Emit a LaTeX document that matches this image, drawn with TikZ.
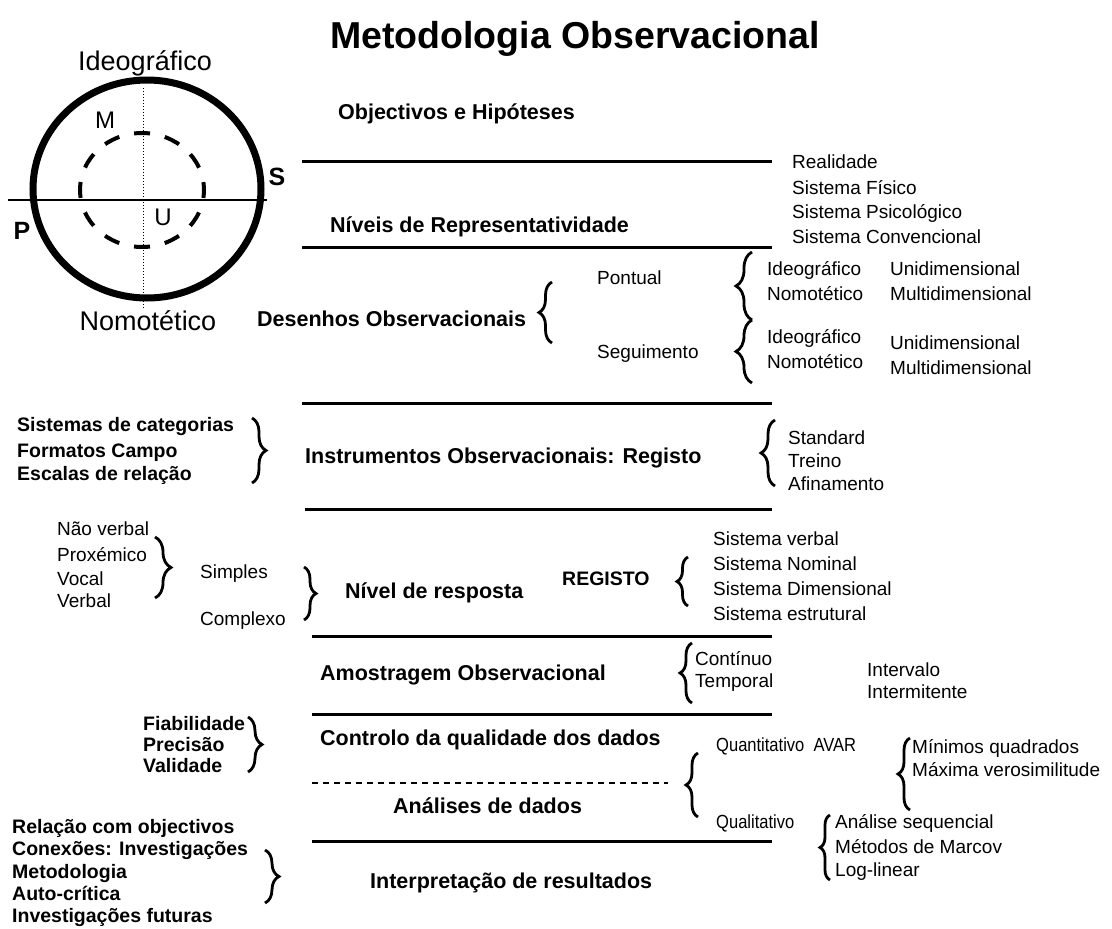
\documentclass[tikz,border=0pt]{standalone}
\usepackage{fontspec}
\setmainfont{Liberation Sans}
\newfontfamily\narrowfont[FakeStretch=0.87]{Liberation Sans}
\usetikzlibrary{decorations.pathreplacing}
\begin{document}
\begin{tikzpicture}[x=1pt,y=-1pt,
  every node/.style={inner sep=0pt},
  dn/.style={yshift=-5.5pt},
  ttl/.style={font=\fontsize{37.5}{40}\selectfont\bfseries, anchor=base west},
  head/.style={font=\fontsize{21.5}{24}\selectfont\bfseries, anchor=mid west, dn},
  itm/.style={font=\fontsize{19}{22}\selectfont, anchor=mid west, dn},
  itmn/.style={font=\fontsize{19}{22}\narrowfont, anchor=mid west, dn},
  itmb/.style={font=\fontsize{19.5}{22}\selectfont\bfseries, anchor=mid west, dn},
  big/.style={font=\fontsize{27}{30}\selectfont, anchor=mid, dn},
  let/.style={font=\fontsize{24}{27}\selectfont, anchor=mid, dn},
  letb/.style={font=\fontsize{25}{28}\selectfont\bfseries, anchor=mid, dn},
  rulel/.style={line width=3pt},
  brc/.style={decorate, decoration={brace, amplitude=#1}, line width=2.8pt},
  brc/.default=12
]
\useasboundingbox (0,0) rectangle (1112,929);

% ---- circle diagram ----
\draw[line width=1.2pt] (8,200) -- (267,200);
\draw[line width=1pt, dotted] (143,88) -- (143,308);
\draw[line width=7pt] (147,189) ellipse [x radius=114, y radius=109];
\draw[line width=4pt, dash pattern=on 16pt off 15.17pt, dash phase=8pt] (142,190) ellipse [x radius=62, y radius=57];
\node[big] (ideo) at (145,62) {Ideográfico};
\node[big] (nomo) at (148,322) {Nomotético};
\node[let] (m) at (105,120) {M};
\node[let] (u) at (163,217) {U};
\node[letb] (s) at (277,177) {S};
\node[letb] (p) at (22,231) {P};

% ---- title ----
\node[ttl] (title) at (330,48) {Metodologia Observacional};

% ---- horizontal rules ----
\draw[rulel] (302,161) -- (772,161);
\draw[rulel] (302,247) -- (772,247);
\draw[rulel] (302,403) -- (772,403);
\draw[rulel] (305,509) -- (772,509);
\draw[rulel] (312,636) -- (772,636);
\draw[rulel] (312,714) -- (772,714);
\draw[line width=1.5pt, dash pattern=on 6pt off 5pt] (312,783) -- (668,783);
\draw[rulel] (312,841) -- (772,841);

% ---- headings ----
\node[head] (obj) at (338,111) {Objectivos e Hipóteses};
\node[head] (niv) at (330,224) {Níveis de Representatividade};
\node[head] (des) at (257,318) {Desenhos Observacionais};
\node[head] (ins) at (305,455) {Instrumentos Observacionais: Registo};
\node[head] (nre) at (345,590) {Nível de resposta};
\node[head] (amo) at (320,672) {Amostragem Observacional};
\node[head] (con) at (320,737) {Controlo da qualidade dos dados};
\node[head] (ana) at (393,805) {Análises de dados};
\node[head] (int) at (370,880) {Interpretação de resultados};

% ---- representatividade ----
\node[itm] (r1) at (792,160) {Realidade};
\node[itm] (r2) at (792,186) {Sistema Físico};
\node[itm] (r3) at (792,210) {Sistema Psicológico};
\node[itm] (r4) at (792,235) {Sistema Convencional};

% ---- desenhos ----
\draw[brc=13] (552,343) -- (552,282);
\node[itm] (pont) at (597,276) {Pontual};
\node[itm] (segu) at (597,350) {Seguimento};
\draw[brc=16] (752,320) -- (752,252);
\draw[brc=16] (752,383) -- (752,320);
\node[itm] (d1) at (767,267) {Ideográfico};
\node[itm] (d2) at (767,292) {Nomotético};
\node[itm] (d3) at (890,267) {Unidimensional};
\node[itm] (d4) at (890,292) {Multidimensional};
\node[itm] (d5) at (767,335) {Ideográfico};
\node[itm] (d6) at (767,360) {Nomotético};
\node[itm] (d7) at (890,341) {Unidimensional};
\node[itm] (d8) at (890,366) {Multidimensional};

% ---- instrumentos ----
\node[itmb] (i1) at (17,423) {Sistemas de categorias};
\node[itmb] (i2) at (17,449) {Formatos Campo};
\node[itmb] (i3) at (17,472) {Escalas de relação};
\draw[brc=14] (252,418) -- (252,483);
\draw[brc=14] (775,486) -- (775,420);
\node[itm] (st) at (788,436) {Standard};
\node[itm] (tr) at (788,459) {Treino};
\node[itm] (af) at (788,482) {Afinamento};

% ---- nivel de resposta ----
\node[itm] (n1) at (57,527) {Não verbal};
\node[itm] (n2) at (57,553) {Proxémico};
\node[itm] (n3) at (57,577) {Vocal};
\node[itm] (n4) at (57,599) {Verbal};
\draw[brc=16] (155,537) -- (155,598);
\node[itm] (simp) at (200,570) {Simples};
\node[itm] (comp) at (200,617) {Complexo};
\draw[brc=12] (304,567) -- (304,620);
\node[itmb] (reg) at (562,577) {REGISTO};
\draw[brc=11] (688,606) -- (688,557);
\node[itm] (s1) at (713,537) {Sistema verbal};
\node[itm] (s2) at (713,562) {Sistema Nominal};
\node[itm] (s3) at (713,587) {Sistema Dimensional};
\node[itm] (s4) at (713,612) {Sistema estrutural};

% ---- amostragem ----
\draw[brc=12] (692,703) -- (692,643);
\node[itm] (cont) at (695,657) {Contínuo};
\node[itm] (temp) at (695,679) {Temporal};
\node[itm] (inte) at (867,668) {Intervalo};
\node[itm] (intm) at (867,690) {Intermitente};

% ---- controlo / analises ----
\node[itmb] (f1) at (143,722) {Fiabilidade};
\node[itmb] (f2) at (143,743) {Precisão};
\node[itmb] (f3) at (143,764) {Validade};
\draw[brc=14] (248,717) -- (248,772);
\draw[brc=12] (698,817) -- (698,753);
\node[itmn] (quan) at (716,743) {Quantitativo\ \ AVAR};
\draw[brc=12] (910,810) -- (910,738);
\node[itm] (mq) at (912,745) {Mínimos quadrados};
\node[itm] (mv) at (912,768) {Máxima verosimilitude};
\node[itmn] (qual) at (716,820) {Qualitativo};
\draw[brc=10] (830,880) -- (830,815);
\node[itm] (as) at (835,820) {Análise sequencial};
\node[itm] (mm) at (835,845) {Métodos de Marcov};
\node[itm] (ll) at (835,868) {Log-linear};

% ---- interpretacao ----
\node[itmb] (e1) at (12,825) {Relação com objectivos};
\node[itmb] (e2) at (12,847) {Conexões: Investigações};
\node[itmb] (e3) at (12,870) {Metodologia};
\node[itmb] (e4) at (12,892) {Auto-crítica};
\node[itmb] (e5) at (12,914) {Investigações futuras};
\draw[brc=14] (265,850) -- (265,903);
\end{tikzpicture}
\end{document}
